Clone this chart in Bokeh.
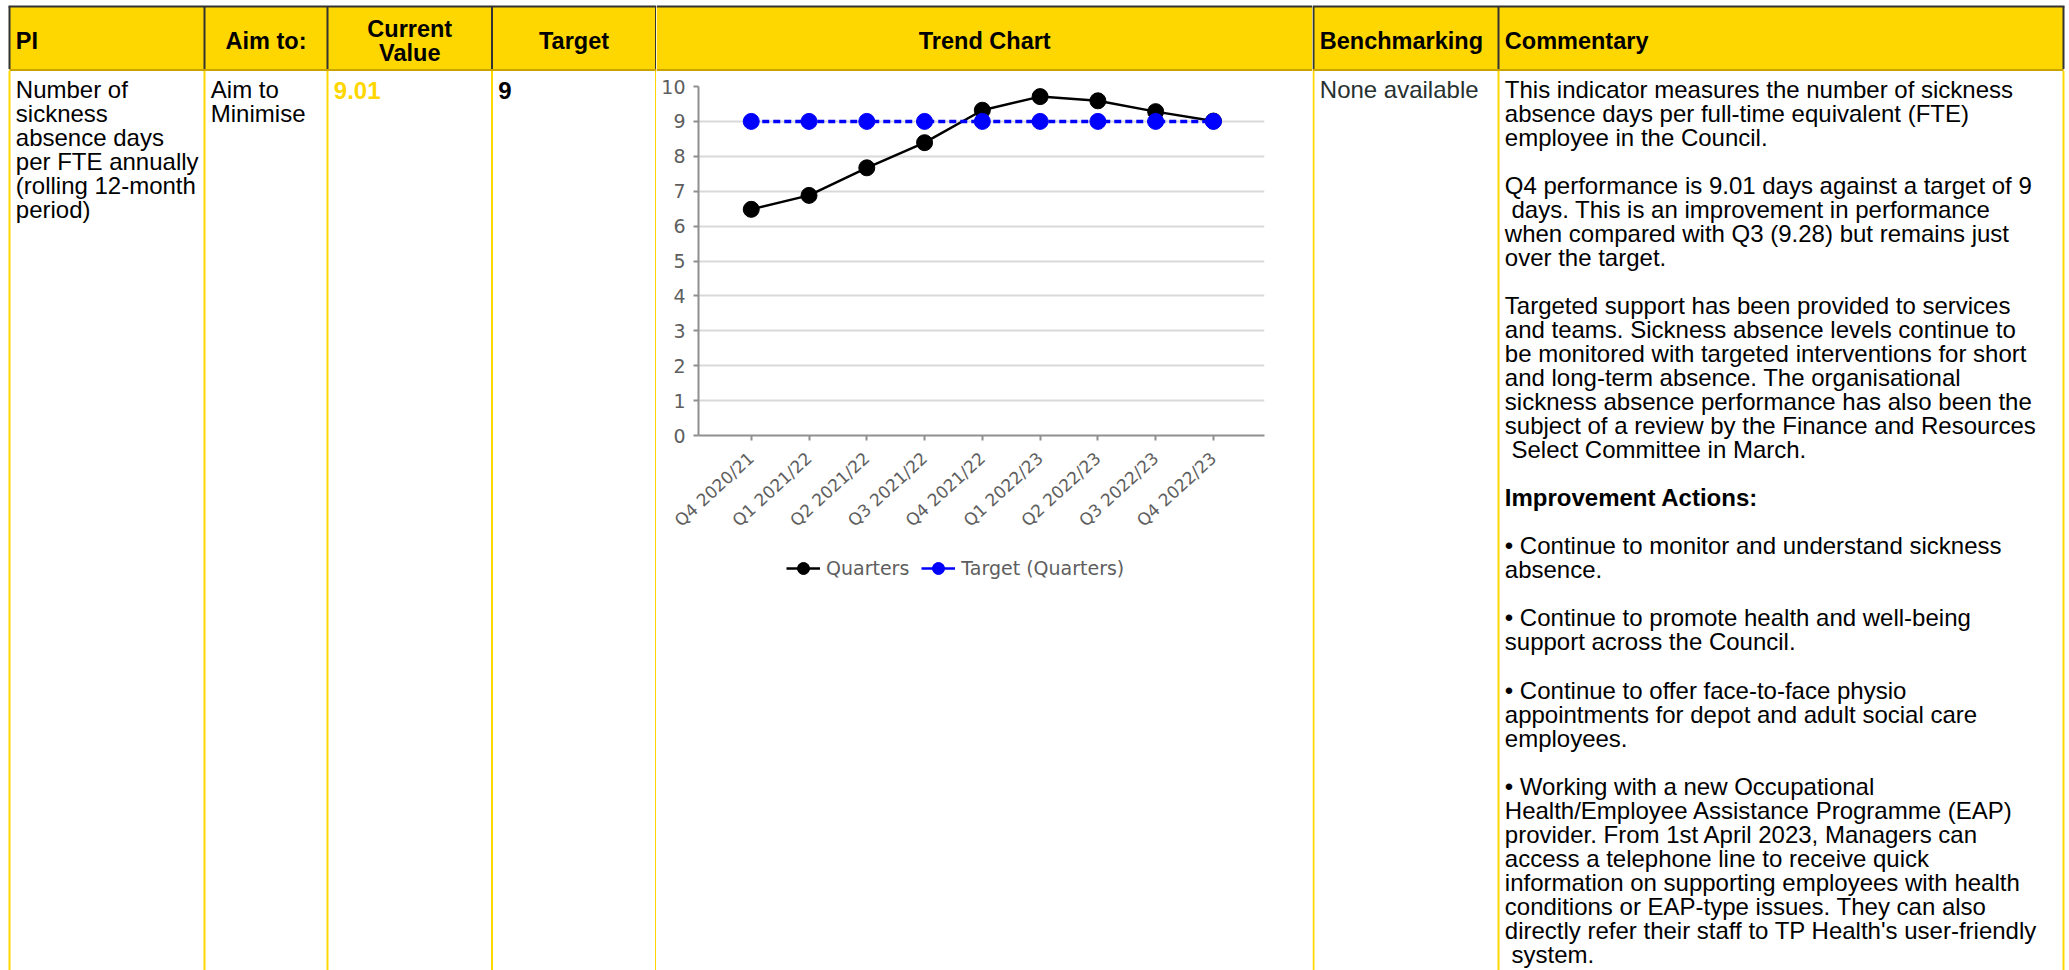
from bokeh.plotting import figure
from bokeh.layouts import row, column
from bokeh.models import Range1d, FixedTicker, Legend, LegendItem
from bokeh.core.properties import value
from bokeh.embed import file_html
from bokeh.resources import INLINE

# ---- chart data -------------------------------------------------------
quarters = ["Q4 2020/21", "Q1 2021/22", "Q2 2021/22", "Q3 2021/22", "Q4 2021/22",
            "Q1 2022/23", "Q2 2022/23", "Q3 2022/23", "Q4 2022/23"]
actual = [6.48, 6.88, 7.67, 8.39, 9.32, 9.71, 9.59, 9.28, 9.01]
target = [9, 9, 9, 9, 9, 9, 9, 9, 9]
y_ticks = [0, 1, 2, 3, 4, 5, 6, 7, 8, 9, 10]
series_names = ["Quarters", "Target (Quarters)"]

# ---- table content ----------------------------------------------------
headers_left = ["PI", "Aim to:", "Current\nValue", "Target"]
header_mid = "Trend Chart"
headers_right = ["Benchmarking", "Commentary"]
pi_lines = ["Number of", "sickness", "absence days", "per FTE annually",
            "(rolling 12-month", "period)"]
aim_lines = ["Aim to", "Minimise"]
current_value = "9.01"
target_value = "9"
benchmark_text = "None available"
commentary = [
    "This indicator measures the number of sickness",
    "absence days per full-time equivalent (FTE)",
    "employee in the Council.",
    "",
    "Q4 performance is 9.01 days against a target of 9",
    " days. This is an improvement in performance",
    "when compared with Q3 (9.28) but remains just",
    "over the target.",
    "",
    "Targeted support has been provided to services",
    "and teams. Sickness absence levels continue to",
    "be monitored with targeted interventions for short",
    "and long-term absence. The organisational",
    "sickness absence performance has also been the",
    "subject of a review by the Finance and Resources",
    " Select Committee in March.",
    "",
    "**Improvement Actions:",
    "",
    "\u2022 Continue to monitor and understand sickness",
    "absence.",
    "",
    "\u2022 Continue to promote health and well-being",
    "support across the Council.",
    "",
    "\u2022 Continue to offer face-to-face physio",
    "appointments for depot and adult social care",
    "employees.",
    "",
    "\u2022 Working with a new Occupational",
    "Health/Employee Assistance Programme (EAP)",
    "provider. From 1st April 2023, Managers can",
    "access a telephone line to receive quick",
    "information on supporting employees with health",
    "conditions or EAP-type issues. They can also",
    "directly refer their staff to TP Health's user-friendly",
    " system.",
]

# ---- styling ----------------------------------------------------------
W, H = 2069, 970
GOLD = "#FFD700"
DARK = "#333333"
HEAD_LINE = "#c9a400"
FONT = "Liberation Sans"
CHART_FONT = "DejaVu Sans"
TICK_GREY = "#5e5e5e"
BODY_SIZE = "24px"
HEAD_SIZE = "23.5px"
col_x = [9, 204, 327, 491.5, 655.5, 1313, 1498, 2063]
top_y, head_y = 6, 69.5
base0, line_h = 99, 24.02
pad = 6.3
space_w = 6.7
# the text box sits a little low for an alphabetic baseline; lift it
lift = 10

# vertical split of the chart column: header / plot / legend strip
MID_X0, MID_X1 = 656, 1312
HEAD_H = 71
PLOT_BOTTOM = 550


def sheet(x0, x1, y0=0, y1=H):
    f = figure(width=int(x1 - x0), height=int(y1 - y0), x_range=Range1d(x0, x1),
               y_range=Range1d(y1, y0), x_axis_type=None, y_axis_type=None,
               toolbar_location=None, output_backend="svg", min_border=0)
    f.outline_line_color = None
    f.background_fill_color = "white"
    f.border_fill_color = "white"
    f.frame_align = False
    return f


def frame_cells(f, xs, x_lo, x_hi):
    f.quad(left=[max(x_lo, col_x[0])], right=[min(x_hi, col_x[-1])],
           top=[top_y], bottom=[head_y], fill_color=GOLD, line_color=None)
    f.segment(x0=[max(x_lo, col_x[0] - 1)], x1=[min(x_hi, col_x[-1] + 1)],
              y0=[top_y], y1=[top_y], line_color=DARK, line_width=2)
    f.segment(x0=[max(x_lo, col_x[0])], x1=[min(x_hi, col_x[-1])],
              y0=[head_y], y1=[head_y], line_color=HEAD_LINE, line_width=2)
    if xs:
        f.segment(x0=xs, x1=xs, y0=[top_y] * len(xs), y1=[head_y - 1] * len(xs),
                  line_color=DARK, line_width=2)
        f.segment(x0=xs, x1=xs, y0=[head_y + 1] * len(xs), y1=[H] * len(xs),
                  line_color=GOLD, line_width=2)


def put(f, x, y, txt, bold=False, align="left", color="black", size=BODY_SIZE):
    f.text(x=x, y=[v - lift for v in y], text=txt, text_font=value(FONT),
           text_font_size=size, text_font_style="bold" if bold else "normal",
           text_align=align, text_baseline="alphabetic", text_color=color)


# ---- left part of the table (PI .. Target) ----------------------------
left = sheet(0, MID_X0)
frame_cells(left, col_x[:5], 0, MID_X0)
put(left, [col_x[0] + pad], [50], [headers_left[0]], bold=True, size=HEAD_SIZE)
put(left, [(col_x[1] + col_x[2]) / 2], [50], [headers_left[1]], bold=True,
    align="center", size=HEAD_SIZE)
cv = headers_left[2].split("\n")
put(left, [(col_x[2] + col_x[3]) / 2] * 2, [38.5, 62], cv, bold=True,
    align="center", size=HEAD_SIZE)
put(left, [(col_x[3] + col_x[4]) / 2], [50], [headers_left[3]], bold=True,
    align="center", size=HEAD_SIZE)
put(left, [col_x[0] + pad] * len(pi_lines),
    [base0 + line_h * k for k in range(len(pi_lines))], pi_lines)
put(left, [col_x[1] + pad] * len(aim_lines),
    [base0 + line_h * k for k in range(len(aim_lines))], aim_lines)
put(left, [col_x[2] + pad], [base0 + 1], [current_value], bold=True, color=GOLD)
put(left, [col_x[3] + pad], [base0 + 1], [target_value], bold=True)

# ---- trend chart column: header cell ---------------------------------
mid_head = sheet(MID_X0, MID_X1, 0, HEAD_H)
mid_head.quad(left=[MID_X0], right=[MID_X1], top=[top_y], bottom=[head_y],
              fill_color=GOLD, line_color=None)
mid_head.segment(x0=[MID_X0], x1=[MID_X1], y0=[top_y], y1=[top_y],
                 line_color=DARK, line_width=2)
mid_head.segment(x0=[MID_X0], x1=[MID_X1], y0=[head_y], y1=[head_y],
                 line_color=HEAD_LINE, line_width=2)
put(mid_head, [(col_x[4] + col_x[5]) / 2], [50], [header_mid], bold=True,
    align="center", size=HEAD_SIZE)

# ---- trend chart column: the line chart -------------------------------
xs = list(range(len(quarters)))
chart = figure(width=MID_X1 - MID_X0, height=PLOT_BOTTOM - HEAD_H,
               x_range=Range1d(-0.913, 8.884), y_range=Range1d(0, 10),
               toolbar_location=None, output_backend="svg",
               min_border_left=42, min_border_right=48, min_border_top=15,
               min_border_bottom=PLOT_BOTTOM - 435)
chart.frame_align = False
chart.outline_line_color = None
chart.background_fill_color = "white"
chart.border_fill_color = "white"
chart.xgrid.visible = False
chart.ygrid.grid_line_color = "#d9d9d9"
chart.ygrid.grid_line_width = 2
chart.ygrid.ticker = FixedTicker(ticks=y_ticks)
chart.yaxis.ticker = FixedTicker(ticks=y_ticks)
chart.xaxis.ticker = FixedTicker(ticks=xs)
chart.xaxis.major_label_overrides = {i: q for i, q in enumerate(quarters)}
chart.xaxis.major_label_orientation = 0.74
chart.axis.minor_tick_line_color = None
chart.axis.major_tick_in = 0
chart.axis.major_tick_out = 5
chart.axis.axis_line_color = "#8f8f8f"
chart.axis.axis_line_width = 2
chart.axis.major_tick_line_color = "#8f8f8f"
chart.axis.major_tick_line_width = 2
chart.axis.major_label_text_font = CHART_FONT
chart.axis.major_label_text_color = TICK_GREY
chart.yaxis.major_label_text_font_size = "19px"
chart.xaxis.major_label_text_font_size = "17px"
chart.yaxis.major_label_standoff = 8
chart.xaxis.major_label_standoff = 15

chart.line(xs, actual, line_color="black", line_width=2.5)
chart.scatter(xs, actual, size=16, fill_color="black", line_color="black")
chart.line(xs, target, line_color="#0000ff", line_width=3.5, line_dash="7 4")
chart.scatter(xs, target, size=16, fill_color="#0000ff", line_color="#0000ff")

# ---- trend chart column: legend strip under the chart -----------------
# hidden copies of the two series supply the legend swatches
key = figure(width=MID_X1 - MID_X0, height=H - PLOT_BOTTOM,
             x_range=Range1d(0, 1), y_range=Range1d(0, 1),
             x_axis_type=None, y_axis_type=None, toolbar_location=None,
             output_backend="svg", min_border=0)
key.outline_line_color = None
key.frame_align = False
key.background_fill_color = "white"
key.border_fill_color = "white"
k_line_a = key.line(xs, actual, line_color="black", line_width=2.5, visible=False)
k_pts_a = key.scatter(xs, actual, fill_color="black", line_color="black", visible=False)
k_line_t = key.line(xs, target, line_color="#0000ff", line_width=2.5, visible=False)
k_pts_t = key.scatter(xs, target, fill_color="#0000ff", line_color="#0000ff", visible=False)
legend = Legend(items=[LegendItem(label=series_names[0], renderers=[k_line_a, k_pts_a]),
                       LegendItem(label=series_names[1], renderers=[k_line_t, k_pts_t])],
                orientation="horizontal",
                location=(786 - MID_X0, (H - PLOT_BOTTOM) - 3 - 30),
                glyph_width=34, glyph_height=30, label_standoff=6, spacing=12,
                padding=0, margin=0, border_line_color=None,
                background_fill_alpha=0, inactive_fill_alpha=0,
                label_text_font=CHART_FONT,
                label_text_font_size="19px", label_text_color=TICK_GREY)
key.add_layout(legend)

# ---- right part of the table (Benchmarking, Commentary) ---------------
right = sheet(MID_X1, W)
frame_cells(right, col_x[5:], MID_X1, W)
put(right, [col_x[5] + pad], [50], [headers_right[0]], bold=True, size=HEAD_SIZE)
put(right, [col_x[6] + pad], [50], [headers_right[1]], bold=True, size=HEAD_SIZE)
put(right, [col_x[5] + pad], [base0], [benchmark_text], color="#27312f")

reg_x, reg_y, reg_t, b_x, b_y, b_t = [], [], [], [], [], []
for k, line in enumerate(commentary):
    if not line:
        continue
    y = base0 + line_h * k
    if line.startswith("**"):
        b_x.append(col_x[6] + pad)
        b_y.append(y)
        b_t.append(line[2:])
        continue
    indent = space_w if line.startswith(" ") else 0
    reg_x.append(col_x[6] + pad + indent)
    reg_y.append(y)
    reg_t.append(line.strip())
put(right, reg_x, reg_y, reg_t)
put(right, b_x, b_y, b_t, bold=True)

page = row(left, column(mid_head, chart, key, spacing=0), right, spacing=0)
open("out.html", "w").write(file_html(page, INLINE))
